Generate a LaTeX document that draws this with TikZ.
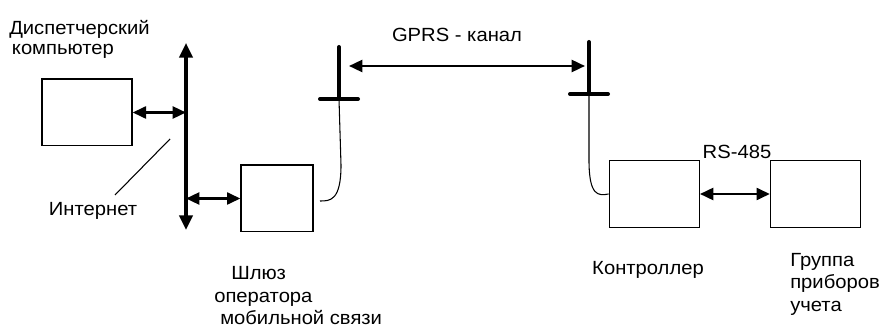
\documentclass[tikz,border=0pt]{standalone}
\usepackage{fontspec}
\setmainfont[FakeStretch=1.06]{Liberation Sans}
\usetikzlibrary{arrows.meta}
\tikzset{
  box/.style={draw, line width=1pt, minimum width=67.5pt, minimum height=50pt, inner sep=0pt},
  link/.style={line width=1.8pt, {Triangle[length=10pt,width=9pt]}-{Triangle[length=10pt,width=9pt]}},
  bus/.style={line width=2.3pt, {Triangle[length=11pt,width=10pt]}-{Triangle[length=11pt,width=10pt]}},
  mast/.style={line width=3pt, line cap=round},
  cable/.style={line width=0.8pt},
  lbl/.style={font=\fontsize{14.3}{16.9}\selectfont, inner sep=0pt}
}
\begin{document}
\begin{tikzpicture}[x=0.75pt,y=-0.75pt]
\useasboundingbox (0,0) rectangle (882,327);
% boxes
\node[box] (pc) at (87,112.5) {};
\node[box, minimum width=54pt] (gw) at (277,198.5) {};
\node[box] (ctrl) at (654.3,194) {};
\node[box] (meters) at (815.5,194) {};
% internet bus
\coordinate (bustop) at (186,43);
\coordinate (busbot) at (186,230);
\draw[bus] (bustop) -- (busbot);
\draw[link] (pc.east) -- (pc.east -| bustop);
\draw[link] (gw.west -| bustop) -- (gw.west);
% antennas
\foreach \n/\x/\y in {1/339/99, 2/589/94}
{
	\coordinate (ant\n) at (\x,\y);
	\draw[mast] (\x,\y-52) -- (ant\n);
	\draw[mast] (\x-19,\y) -- (\x+19,\y);
}
\coordinate (gwcable) at (320,201);
\draw[cable] (ant1) -- (341,165) .. controls (341,201) and (330,201) .. (gwcable);
\draw[cable] (ant2) -- (589,160) .. controls (589,196) and (598,196) .. (ctrl.west);
% channels
\coordinate (gprsL) at (349,66);
\coordinate (gprsR) at (585,66);
\draw[link] (gprsL) -- (gprsR);
\draw[link] (ctrl.east) -- (meters.west);
% labels
\node[lbl, anchor=west, align=left, font=\fontsize{14.3}{15}\selectfont] (pclbl) at (9,39)
  {Диспетчерский\\\hspace*{2pt}компьютер};
\node[lbl] (inet) at (93,211) {Интернет};
\coordinate (inetpt) at (170,139);
\coordinate (inetend) at (115,195);
\draw[cable] (inetpt) -- (inetend);
\node[lbl] (gprslbl) at (457,35) {GPRS - канал};
\node[lbl] (rslbl) at (737,152) {RS-485};
\node[lbl, anchor=west, align=left] (gwlbl) at (214,296)
  {\hspace*{12.75pt}Шлюз\\оператора\\\hspace*{4.5pt}мобильной связи};
\node[lbl] (ctrllbl) at (648,270) {Контроллер};
\node[lbl, anchor=west, align=left] (meterslbl) at (790,284)
  {Группа\\приборов\\учета};
\end{tikzpicture}
\end{document}
